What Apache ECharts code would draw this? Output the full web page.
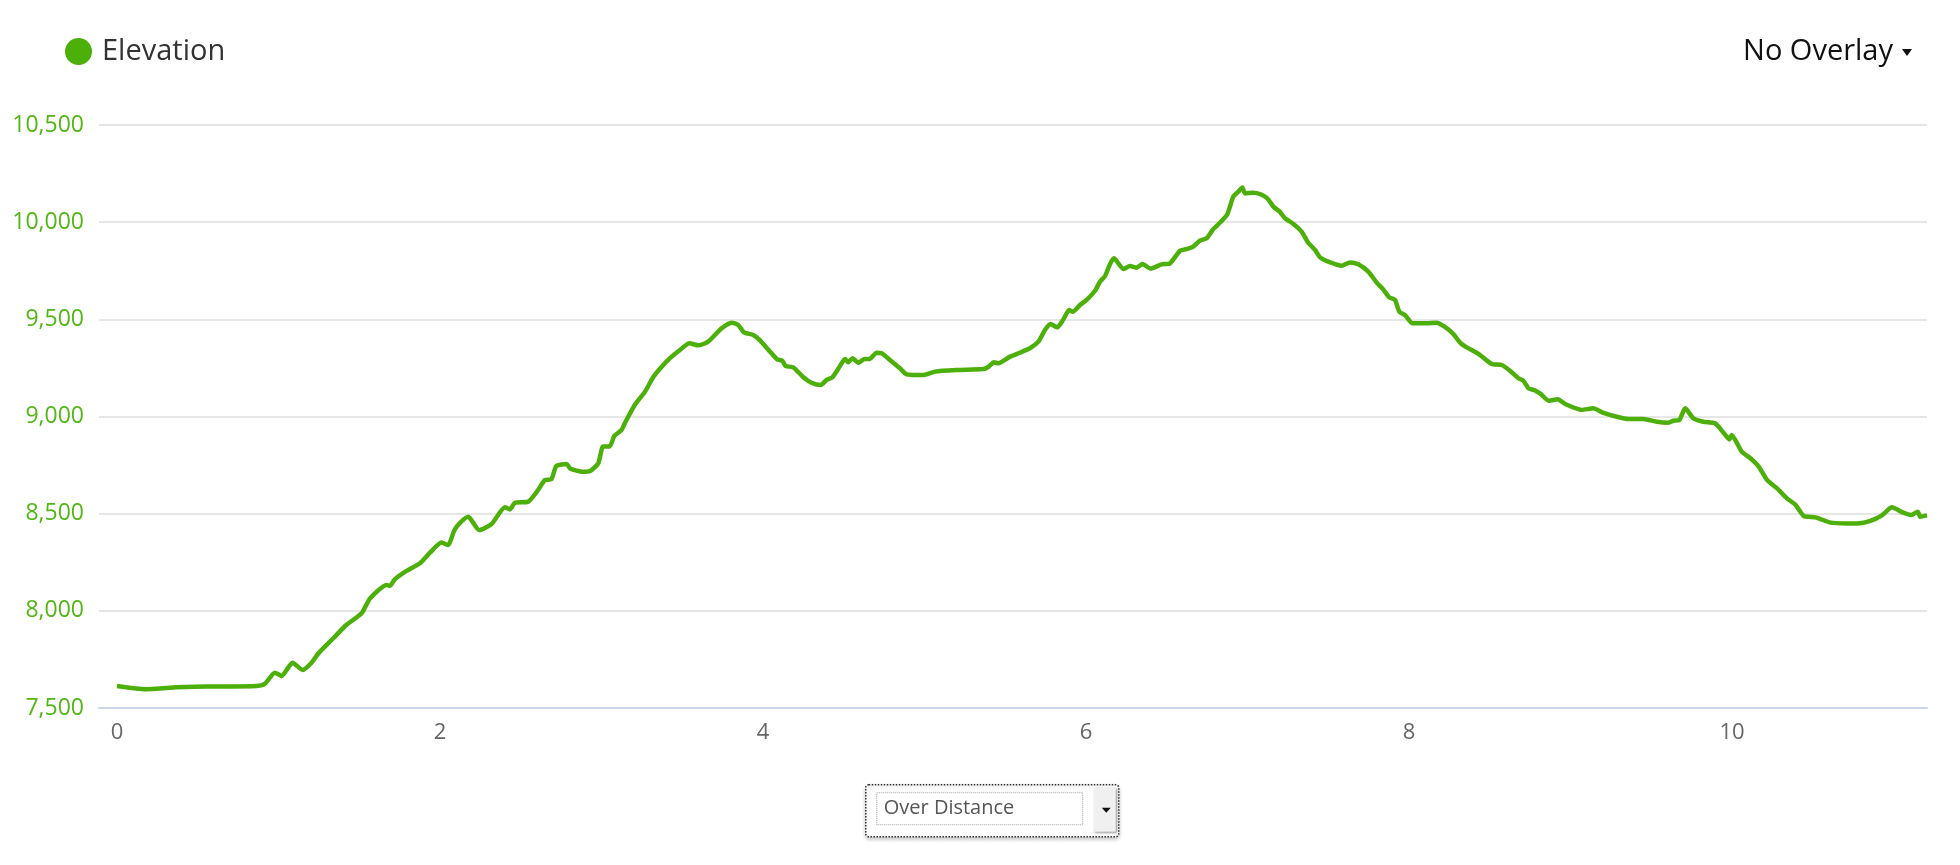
<!DOCTYPE html>
<html>
<head>
<meta charset="utf-8">
<title>Elevation</title>
<script src="https://cdn.jsdelivr.net/npm/echarts@6/dist/echarts.min.js"></script>
<style>
  html, body { margin: 0; padding: 0; background: #fff; }
  #chart { width: 1960px; height: 865px; }
</style>
</head>
<body>
<div id="chart"></div>
<script>
  // distance (mi)
  const distance = [
    0, 0.18, 0.35, 0.555, 0.865, 0.916, 0.978, 1.02, 1.087, 1.15, 1.205, 1.247, 1.34, 1.42, 1.515,
    1.567, 1.67, 1.69, 1.72, 1.783, 1.876, 1.938, 2.01, 2.05, 2.09, 2.124, 2.175, 2.243, 2.32, 2.402,
    2.433, 2.464, 2.547, 2.6, 2.65, 2.69, 2.72, 2.785, 2.805, 2.877, 2.93, 2.98, 3.01, 3.05, 3.08,
    3.125, 3.146, 3.21, 3.27, 3.32, 3.373, 3.424, 3.486, 3.544, 3.6, 3.66, 3.744, 3.806, 3.847, 3.882,
    3.94, 3.98, 4.053, 4.088, 4.12, 4.14, 4.187, 4.25, 4.3, 4.357, 4.394, 4.43, 4.477, 4.508, 4.528,
    4.555, 4.59, 4.63, 4.66, 4.704, 4.735, 4.786, 4.848, 4.89, 4.993, 5.065, 5.2, 5.365, 5.396, 5.43,
    5.457, 5.53, 5.59, 5.653, 5.705, 5.746, 5.78, 5.822, 5.86, 5.896, 5.917, 5.963, 6.004, 6.056, 6.087,
    6.118, 6.149, 6.173, 6.231, 6.272, 6.313, 6.35, 6.4, 6.468, 6.52, 6.582, 6.623, 6.664, 6.706, 6.747,
    6.788, 6.83, 6.875, 6.912, 6.943, 6.968, 6.985, 7.036, 7.077, 7.123, 7.16, 7.2, 7.232, 7.284, 7.335,
    7.376, 7.418, 7.449, 7.5, 7.583, 7.635, 7.686, 7.748, 7.8, 7.84, 7.878, 7.913, 7.94, 7.975, 8.022,
    8.109, 8.17, 8.22, 8.275, 8.316, 8.357, 8.43, 8.512, 8.574, 8.625, 8.677, 8.708, 8.74, 8.774, 8.815,
    8.868, 8.92, 8.97, 9.069, 9.14, 9.2, 9.286, 9.358, 9.45, 9.534, 9.606, 9.637, 9.674, 9.71, 9.76,
    9.822, 9.895, 9.947, 9.984, 9.998, 10.06, 10.114, 10.165, 10.217, 10.279, 10.34, 10.393, 10.444, 10.517, 10.61,
    10.712, 10.774, 10.86, 10.93, 10.99, 11.06, 11.11, 11.15, 11.165, 11.207
  ]
  // elevation (ft)
  const elevation = [
    7613, 7596, 7606, 7610, 7613, 7624, 7682, 7665, 7733, 7696, 7733, 7781, 7859, 7927, 7987,
    8064, 8133, 8128, 8162, 8201, 8245, 8299, 8351, 8339, 8416, 8453, 8484, 8416, 8447, 8533,
    8522, 8556, 8562, 8613, 8673, 8677, 8745, 8756, 8733, 8716, 8720, 8759, 8845, 8845, 8900,
    8931, 8968, 9064, 9128, 9202, 9256, 9300, 9342, 9377, 9366, 9385, 9454, 9483, 9471, 9433,
    9419, 9393, 9325, 9294, 9287, 9260, 9253, 9202, 9174, 9162, 9188, 9202, 9260, 9296, 9279,
    9300, 9277, 9296, 9296, 9328, 9325, 9291, 9248, 9217, 9213, 9231, 9239, 9244, 9256, 9279,
    9274, 9308, 9328, 9351, 9385, 9445, 9476, 9459, 9500, 9548, 9539, 9574, 9600, 9647, 9694,
    9723, 9785, 9814, 9759, 9774, 9766, 9785, 9761, 9783, 9788, 9853, 9862, 9874, 9905, 9917,
    9964, 9998, 10041, 10132, 10157, 10179, 10148, 10152, 10145, 10123, 10080, 10054, 10020, 9991, 9951,
    9894, 9857, 9819, 9797, 9776, 9793, 9783, 9745, 9689, 9654, 9613, 9600, 9539, 9522, 9480,
    9480, 9483, 9462, 9424, 9380, 9356, 9322, 9270, 9265, 9236, 9197, 9184, 9145, 9136, 9116,
    9081, 9089, 9063, 9034, 9042, 9020, 8999, 8987, 8987, 8973, 8968, 8978, 8982, 9042, 8991,
    8973, 8965, 8917, 8882, 8905, 8819, 8785, 8742, 8673, 8630, 8579, 8545, 8488, 8481, 8454,
    8450, 8450, 8464, 8493, 8533, 8505, 8493, 8510, 8484, 8491
  ]
  const xTicks = [0, 2, 4, 6, 8, 10]
  const seriesName = 'Elevation'
  const overlayLabel = 'No Overlay'
  const modeLabel = 'Over Distance'

  const green = '#4caf0a'
  const font = '"Open Sans", "DejaVu Sans", sans-serif'

  let points = []
  for (let i = 0; i < distance.length; i++) {
    points.push([distance[i], elevation[i]])
  }

  let chart = echarts.init(document.getElementById('chart'))
  chart.setOption({
    animation: false,
    textStyle: { fontFamily: font },
    legend: {
      left: 60,
      top: 32,
      icon: 'circle',
      itemWidth: 27,
      itemHeight: 27,
      selectedMode: false,
      data: [seriesName],
      textStyle: { fontSize: 29, color: '#333', padding: [0, 0, 0, 5] }
    },
    grid: { left: 99, right: 33, top: 125, bottom: 157 },
    xAxis: {
      type: 'value',
      min: -0.111,
      max: 11.207,
      splitLine: { show: false },
      axisTick: { show: false },
      axisLine: { show: true, lineStyle: { color: '#ccd6eb', width: 2 } },
      axisLabel: {
        customValues: xTicks,
        margin: 14,
        fontSize: 22,
        color: '#666'
      }
    },
    yAxis: {
      type: 'value',
      min: 7500,
      max: 10500,
      interval: 500,
      axisLine: { show: false },
      axisTick: { show: false },
      splitLine: { lineStyle: { color: '#e6e6e6', width: 2 } },
      axisLabel: {
        margin: 15,
        fontSize: 23,
        color: '#52b614',
        formatter: v => v.toLocaleString('en-US')
      }
    },
    series: [{
      name: seriesName,
      type: 'line',
      data: points,
      symbol: 'none',
      smooth: 0.2,
      itemStyle: { color: green },
      lineStyle: { color: green, width: 4.5 }
    }],
    graphic: [
      {
        type: 'text',
        right: 1960 - 1893,
        top: 37,
        style: { text: overlayLabel, fontSize: 29, fill: '#111', fontFamily: font }
      },
      {
        type: 'polygon',
        shape: { points: [[1902, 49], [1912, 49], [1907, 56]] },
        style: { fill: '#111' }
      },
      {
        type: 'group',
        left: 865,
        top: 784,
        children: [
          {
            type: 'rect',
            shape: { x: 0, y: 0, width: 253, height: 52, r: 3 },
            style: {
              fill: '#fff', stroke: '#333', lineWidth: 1.5, lineDash: [1.5, 1.5],
              shadowBlur: 4, shadowOffsetY: 2, shadowColor: 'rgba(0,0,0,0.25)'
            }
          },
          {
            type: 'rect',
            shape: { x: 11, y: 8, width: 206, height: 32 },
            style: { fill: 'none', stroke: '#999', lineWidth: 1, lineDash: [1, 1] }
          },
          {
            type: 'rect',
            shape: { x: 228, y: 3, width: 22, height: 44 },
            style: { fill: '#f0f0f0', shadowBlur: 2, shadowOffsetX: 1, shadowOffsetY: 1, shadowColor: 'rgba(0,0,0,0.4)' }
          },
          {
            type: 'polygon',
            shape: { points: [[236, 23], [245, 23], [240.5, 28]] },
            style: { fill: '#111' }
          },
          {
            type: 'text',
            x: 18,
            y: 24,
            style: { text: modeLabel, fontSize: 20, fill: '#555', fontFamily: font, verticalAlign: 'middle' }
          }
        ]
      }
    ]
  })
</script>
</body>
</html>
